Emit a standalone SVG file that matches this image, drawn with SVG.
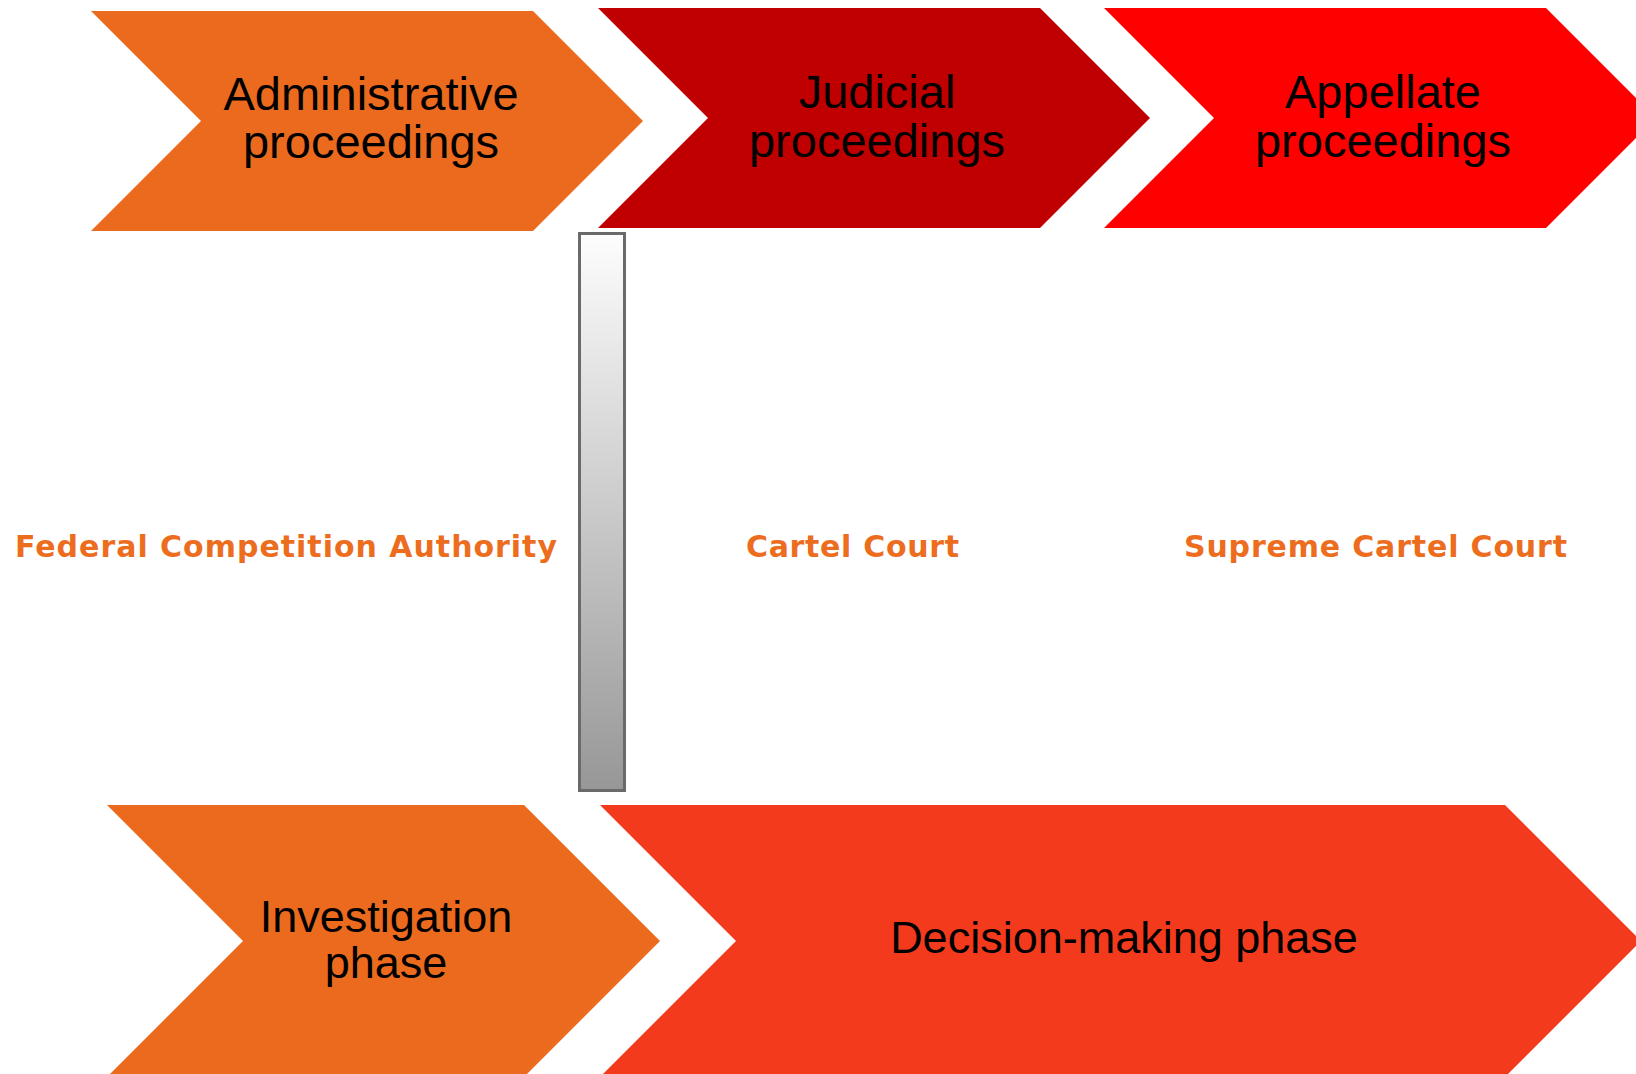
<svg xmlns="http://www.w3.org/2000/svg" width="1636" height="1074" viewBox="0 0 1636 1074">
  <defs>
    <linearGradient id="barFill" x1="0" y1="0" x2="0" y2="1">
      <stop offset="0" stop-color="#fdfdfd"/>
      <stop offset="1" stop-color="#979797"/>
    </linearGradient>
    <style>
      .step { font-family: "Liberation Sans", Arial, sans-serif; fill: #000; text-anchor: middle; }
      .body { font-family: "DejaVu Sans", Verdana, sans-serif; font-weight: bold; font-size: 30px; fill: #ED6D1F; }
      .orange { fill: #EB6A1E; }
      .dark { fill: #C00000; }
      .red { fill: #FF0000; }
      .decide { fill: #F43A1D; }
    </style>
  </defs>
  <rect width="1636" height="1074" fill="#ffffff"/>

  <!-- Proceedings row -->
  <g id="administrative">
    <polygon class="orange" points="91,11 533,11 643,121 533,231 91,231 201,121"/>
    <text class="step" font-size="47" x="371" y="110">Administrative</text>
    <text class="step" font-size="47" x="371" y="158">proceedings</text>
  </g>
  <g id="judicial">
    <polygon class="dark" points="598,8 1040,8 1150,118 1040,228 598,228 708,118"/>
    <text class="step" font-size="47" x="877" y="108">Judicial</text>
    <text class="step" font-size="47" x="877" y="157">proceedings</text>
  </g>
  <g id="appellate">
    <polygon class="red" points="1104,8 1546,8 1656,118 1546,228 1104,228 1214,118"/>
    <text class="step" font-size="47" x="1383" y="108">Appellate</text>
    <text class="step" font-size="47" x="1383" y="157">proceedings</text>
  </g>

  <!-- Divider bar -->
  <g id="divider">
    <rect x="579.5" y="233.5" width="45" height="557" fill="url(#barFill)" stroke="#6a6a6a" stroke-width="3"/>
  </g>

  <!-- Bodies -->
  <g id="authority">
    <text class="body" x="15" y="557" textLength="542" lengthAdjust="spacing">Federal Competition Authority</text>
  </g>
  <g id="cartel-court">
    <text class="body" x="746" y="557" textLength="213" lengthAdjust="spacing">Cartel Court</text>
  </g>
  <g id="supreme-cartel-court">
    <text class="body" x="1184" y="557" textLength="383" lengthAdjust="spacing">Supreme Cartel Court</text>
  </g>

  <!-- Phases row -->
  <g id="investigation">
    <polygon class="orange" points="107,805 524,805 660,941 524,1077 107,1077 243,941"/>
    <text class="step" font-size="45" x="386" y="932">Investigation</text>
    <text class="step" font-size="45" x="386" y="978">phase</text>
  </g>
  <g id="decision">
    <polygon class="decide" points="600,805 1505,805 1641,941 1505,1077 600,1077 736,941"/>
    <text class="step" font-size="45" x="1124" y="953">Decision-making phase</text>
  </g>
</svg>
